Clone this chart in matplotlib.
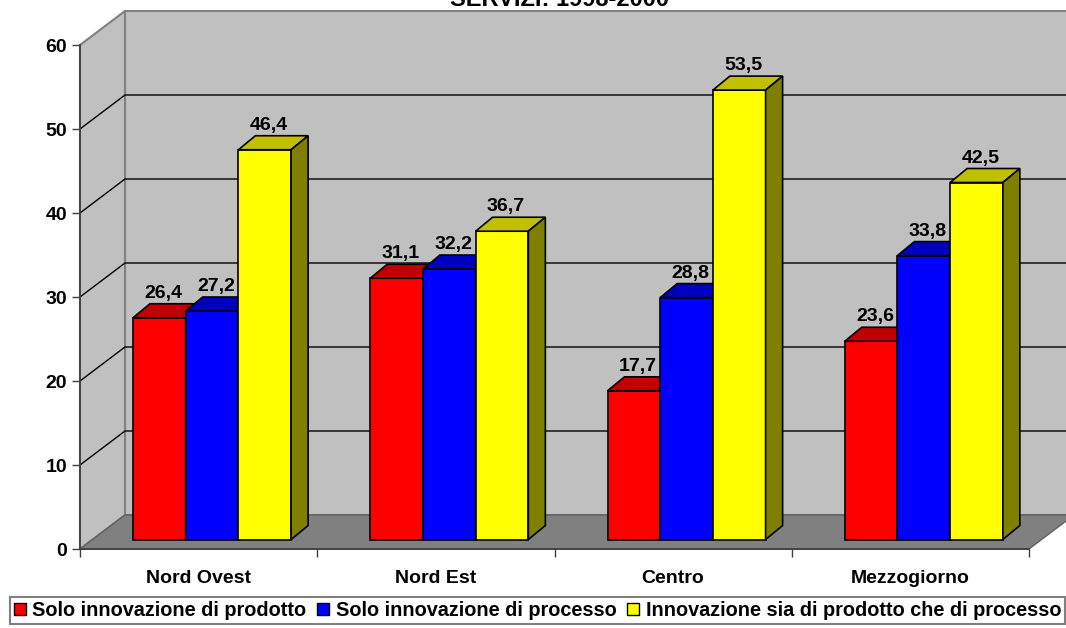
import matplotlib
matplotlib.use("Agg")
import matplotlib.pyplot as plt
from matplotlib.patches import Polygon, Rectangle

# Data
categories = ["Nord Ovest", "Nord Est", "Centro", "Mezzogiorno"]
series_names = [
    "Solo innovazione di prodotto",
    "Solo innovazione di processo",
    "Innovazione sia di prodotto che di processo",
]
solo_prodotto = [26.4, 31.1, 17.7, 23.6]
solo_processo = [27.2, 32.2, 28.8, 33.8]
entrambi = [46.4, 36.7, 53.5, 42.5]
y_ticks = [0, 10, 20, 30, 40, 50, 60]
title = "SERVIZI: 1998-2000"

# Face colours per series: front, top, side
face_colors = [
    ("#FF0000", "#C00000", "#800000"),
    ("#0000FF", "#0000C0", "#000080"),
    ("#FFFF00", "#C0C000", "#808000"),
]

plt.rcParams["font.family"] = ["Liberation Sans", "DejaVu Sans"]
plt.rcParams["font.weight"] = "bold"

W, H = 1066, 628
fig = plt.figure(figsize=(W / 100, H / 100), dpi=100)
ax = fig.add_axes([80 / W, 79 / H, 949 / W, 504 / H])
n_cat = len(categories)
ymax = y_ticks[-1]
ax.set_xlim(0, n_cat)
ax.set_ylim(0, ymax)
ax.patch.set_visible(False)

# pixel -> data conversion for the pseudo-3D depth offsets
px_x = n_cat / 949
px_y = ymax / 504
wall_dx, wall_dy = 45 * px_x, 34 * px_y
bar_dx, bar_dy = 17 * px_x, 14 * px_y
shift_x, shift_y = 12 * px_x, 9.5 * px_y
bar_w = 52.7 * px_x
group_off = 41 * px_x

# Walls and floor
back_wall = Polygon(
    [(wall_dx, wall_dy), (n_cat + wall_dx, wall_dy),
     (n_cat + wall_dx, ymax + wall_dy), (wall_dx, ymax + wall_dy)],
    closed=True, fc="#C0C0C0", ec="#808080", lw=1.5, clip_on=False, zorder=0.5)
side_wall = Polygon(
    [(0, 0), (wall_dx, wall_dy), (wall_dx, ymax + wall_dy), (0, ymax)],
    closed=True, fc="#C0C0C0", ec="#808080", lw=1.5, clip_on=False, zorder=0.6)
floor = Polygon(
    [(0, 0), (n_cat, 0), (n_cat + wall_dx, wall_dy), (wall_dx, wall_dy)],
    closed=True, fc="#808080", ec="#606060", lw=1.0, clip_on=False, zorder=0.7)
for p in (back_wall, side_wall, floor):
    ax.add_patch(p)

for v in y_ticks[1:-1]:
    ax.plot([0, wall_dx, n_cat + wall_dx], [v, v + wall_dy, v + wall_dy],
            color="black", lw=1.0, clip_on=False, zorder=0.8)

# Bars
series = [solo_prodotto, solo_processo, entrambi]
for i in range(n_cat):
    for j, vals in enumerate(series):
        v = vals[i]
        front_c, top_c, side_c = face_colors[j]
        x0 = i + group_off + shift_x + j * bar_w
        y0 = shift_y
        y1 = shift_y + v
        z = 2 + i * 3 + j
        ax.add_patch(Rectangle((x0, y0), bar_w, v, fc=front_c, ec="black",
                               lw=1.2, clip_on=False, zorder=z))
        ax.add_patch(Polygon([(x0, y1), (x0 + bar_w, y1),
                              (x0 + bar_w + bar_dx, y1 + bar_dy),
                              (x0 + bar_dx, y1 + bar_dy)],
                             closed=True, fc=top_c, ec="black", lw=1.2,
                             clip_on=False, zorder=z))
        ax.add_patch(Polygon([(x0 + bar_w, y0), (x0 + bar_w + bar_dx, y0 + bar_dy),
                              (x0 + bar_w + bar_dx, y1 + bar_dy), (x0 + bar_w, y1)],
                             closed=True, fc=side_c, ec="black", lw=1.2,
                             clip_on=False, zorder=z))
        ax.text(x0 + bar_w / 2 + 4 * px_x, y1 + bar_dy + 6 * px_y,
                f"{v:.1f}".replace(".", ","), ha="center", va="baseline",
                fontsize=14, fontweight="bold", zorder=50)

# Axes lines and ticks
for s in ("top", "right"):
    ax.spines[s].set_visible(False)
for s in ("left", "bottom"):
    ax.spines[s].set_color("#404040")
    ax.spines[s].set_linewidth(1.3)
    ax.spines[s].set_zorder(1)

ax.set_yticks(y_ticks)
ax.set_yticklabels([str(t) for t in y_ticks])
ax.tick_params(axis="y", length=5.8, width=1.0, color="#404040", pad=3.5,
               labelsize=14)
ax.set_xticks([i + 0.5 for i in range(n_cat)])
ax.set_xticklabels(categories)
ax.set_xticks(range(n_cat + 1), minor=True)
ax.tick_params(axis="x", which="major", length=0, pad=15, labelsize=14)
ax.tick_params(axis="x", which="minor", length=5.8, width=1.0, color="#404040")
for lab in ax.get_xticklabels() + ax.get_yticklabels():
    lab.set_fontweight("bold")

# Title (sits at the very top edge of the figure)
fig.text(559 / W, 1 - 6 / H, title, ha="center", va="baseline",
         fontsize=17, fontweight="bold")

# Legend
handles = [Rectangle((0, 0), 1, 1, fc=c[0], ec="black", lw=1.0)
           for c in face_colors]
leg = fig.legend(handles, series_names, loc="upper left",
                 bbox_to_anchor=(10 / W, 1 - 597 / H), ncol=3,
                 frameon=True, fancybox=False, framealpha=1,
                 edgecolor="#808080", fontsize=14.3, handlelength=0.6,
                 handleheight=0.6, handletextpad=0.32, columnspacing=0.55,
                 borderpad=0.2, borderaxespad=0)
leg.get_frame().set_linewidth(1.5)
for t in leg.get_texts():
    t.set_fontweight("bold")

fig.savefig("out.png", dpi=100)
